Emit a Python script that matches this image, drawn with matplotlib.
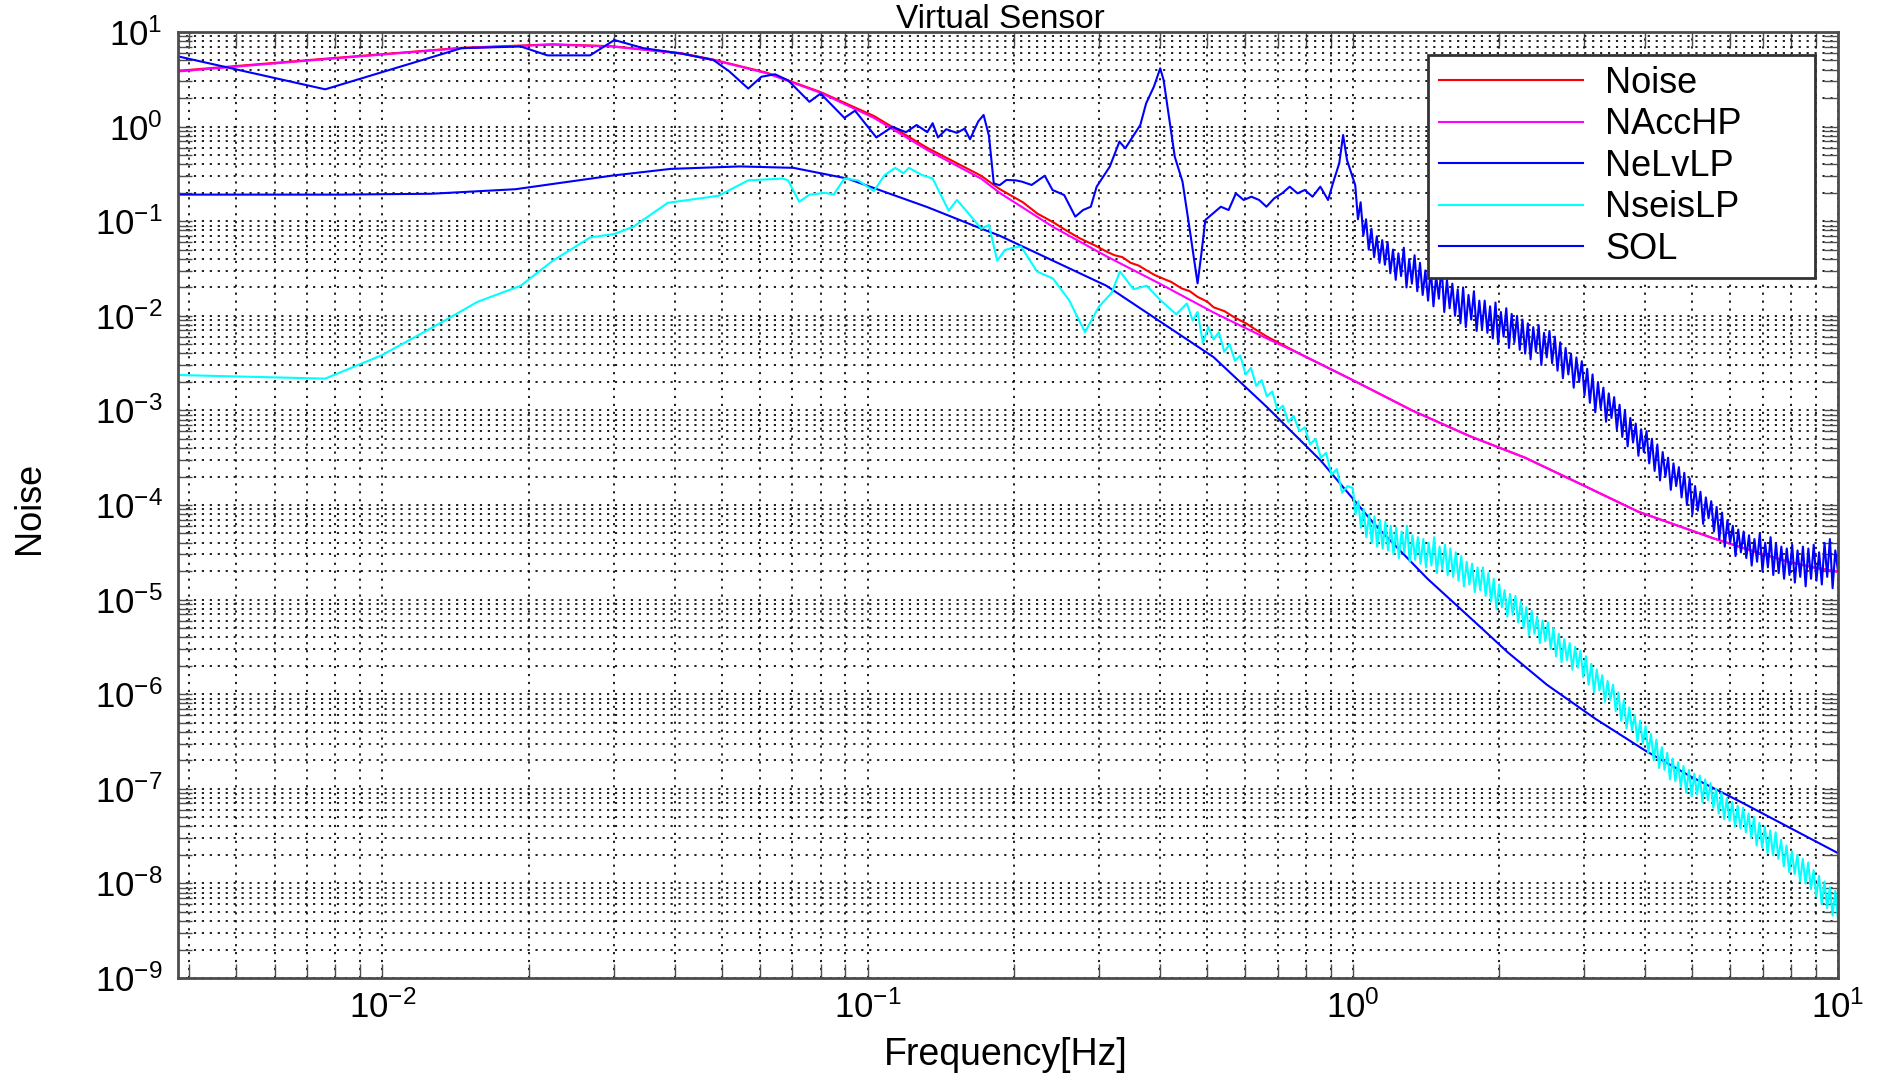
import numpy as np
import matplotlib
matplotlib.use("Agg")
import matplotlib.pyplot as plt
from matplotlib.ticker import LogLocator, FixedLocator, NullFormatter

plt.rcParams['font.family'] = ['Liberation Sans', 'DejaVu Sans']
plt.rcParams['mathtext.default'] = 'regular'

# all curves are stored as log10(frequency [Hz]) / log10(noise)
f_min_exp = -2.4214
x_decades = [1e-2, 1e-1, 1e0, 1e1]
y_decades = [1e-9, 1e-8, 1e-7, 1e-6, 1e-5, 1e-4, 1e-3, 1e-2, 1e-1, 1e0, 1e1]

noise_lf = [-2.421, -2.112, -1.837, -1.649, -1.528, -1.384, -1.318, -1.208, -1.097, -0.987,
            -0.877, -0.766, -0.728, -0.680, -0.650, -0.618, -0.590, -0.563, -0.530, -0.508,
            -0.491, -0.475, -0.458, -0.441, -0.425, -0.408, -0.385, -0.375, -0.353, -0.336,
            -0.320, -0.300, -0.287, -0.265, -0.243, -0.220, -0.199, -0.177, -0.110, 0.0,
            0.122, 0.240, 0.355, 0.47, 0.588, 0.665, 0.742, 0.82, 0.897, 0.95, 1.0]
noise_ly = [0.590, 0.720, 0.833, 0.870, 0.850, 0.776, 0.708, 0.570, 0.365, 0.112,
            -0.225, -0.520, -0.660, -0.80, -0.92, -1.01, -1.10, -1.18, -1.26, -1.32,
            -1.36, -1.38, -1.44, -1.47, -1.52, -1.57, -1.62, -1.64, -1.71, -1.74,
            -1.80, -1.85, -1.91, -1.95, -2.02, -2.08, -2.15, -2.22, -2.40, -2.68,
            -3.00, -3.27, -3.50, -3.78, -4.07, -4.21, -4.35, -4.48, -4.60, -4.66, -4.705]

acc_lf = [-2.421, -2.112, -1.837, -1.649, -1.528, -1.384, -1.318, -1.208, -1.097, -0.987,
          -0.877, -0.766, -0.728, -0.618, -0.508, -0.398, -0.287, -0.177, -0.110, 0.0,
          0.122, 0.240, 0.355, 0.47, 0.588, 0.665, 0.742, 0.82, 0.897, 0.95, 1.0]
acc_ly = [0.583, 0.715, 0.829, 0.866, 0.847, 0.772, 0.704, 0.564, 0.357, 0.092,
          -0.248, -0.55, -0.70, -1.06, -1.37, -1.66, -1.965, -2.24, -2.40, -2.68,
          -3.00, -3.27, -3.50, -3.78, -4.07, -4.21, -4.35, -4.48, -4.60, -4.66, -4.705]

lv_lf = [-2.421, -2.090, -1.900, -1.726, -1.528, -1.406, -1.263, -1.153, -1.042, -0.877,
         -0.766, -0.728, -0.508, -0.287, -0.177, -0.066, 0.044, 0.154, 0.265, 0.320,
         0.40, 0.50, 0.604, 0.70, 0.80, 0.90, 1.0]
lv_ly = [-0.719, -0.719, -0.71, -0.662, -0.519, -0.447, -0.421, -0.436, -0.549, -0.851,
         -1.078, -1.153, -1.682, -2.437, -2.965, -3.531, -4.20, -4.78, -5.30, -5.56,
         -5.90, -6.26, -6.60, -6.88, -7.14, -7.41, -7.68]

seis_lf = [-2.421, -2.118, -2.002, -1.881, -1.804, -1.715, -1.649, -1.572, -1.522, -1.483,
           -1.412, -1.307, -1.246, -1.175, -1.164, -1.141, -1.120, -1.087, -1.070, -1.048,
           -1.020, -0.987, -0.965, -0.943, -0.926, -0.915, -0.888, -0.866, -0.833, -0.816,
           -0.800, -0.766, -0.750, -0.733, -0.717, -0.700, -0.684, -0.651, -0.618, -0.585,
           -0.552, -0.524, -0.497, -0.480, -0.452, -0.425, -0.397, -0.364, -0.342, -0.330,
           -0.320, -0.309, -0.298, -0.287, -0.276, -0.265, -0.254, -0.243, -0.232, -0.221,
           -0.210, -0.199, -0.188, -0.177, -0.166, -0.155, -0.144, -0.133, -0.122, -0.110,
           -0.099, -0.088, -0.077, -0.066, -0.055, -0.044, -0.033, -0.022, -0.011]
seis_ly = [-2.626, -2.664, -2.418, -2.078, -1.852, -1.682, -1.418, -1.172, -1.135, -1.059,
           -0.806, -0.731, -0.568, -0.549, -0.568, -0.795, -0.719, -0.700, -0.719, -0.549,
           -0.568, -0.681, -0.512, -0.436, -0.493, -0.436, -0.512, -0.549, -0.889, -0.776,
           -0.870, -1.078, -1.040, -1.418, -1.304, -1.28, -1.267, -1.531, -1.606, -1.833,
           -2.173, -1.908, -1.757, -1.531, -1.719, -1.682, -1.833, -1.984, -1.870, -2.05,
           -1.96, -2.286, -2.12, -2.25, -2.173, -2.38, -2.30, -2.475, -2.42, -2.62,
           -2.55, -2.74, -2.68, -2.852, -2.80, -3.00, -2.95, -3.12, -3.06, -3.22,
           -3.18, -3.36, -3.30, -3.50, -3.45, -3.68, -3.62, -3.87, -3.80]
# 1-10 Hz part, dense bins
seis_hf = [-3.82, -4.10, -3.96, -4.24, -4.04, -4.34, -4.10, -4.40, -4.12, -4.44, -4.16, -4.46,
           -4.18, -4.48, -4.22, -4.52, -4.24, -4.56, -4.28, -4.50, -4.22, -4.60, -4.32, -4.58,
           -4.34, -4.62, -4.36, -4.66, -4.40, -4.64, -4.34, -4.72, -4.44, -4.68, -4.42, -4.74,
           -4.46, -4.76, -4.50, -4.80, -4.54, -4.86, -4.60, -4.84, -4.62, -4.92, -4.66, -4.90,
           -4.66, -4.96, -4.72, -5.02, -4.78, -5.10, -4.84, -5.08, -4.90, -5.18, -4.94, -5.16,
           -4.96, -5.24, -5.02, -5.30, -5.08, -5.38, -5.12, -5.36, -5.18, -5.46, -5.22, -5.44,
           -5.24, -5.52, -5.30, -5.60, -5.36, -5.66, -5.42, -5.64, -5.46, -5.74, -5.50, -5.72,
           -5.54, -5.82, -5.60, -5.90, -5.68, -5.98, -5.74, -5.96, -5.80, -6.08, -5.86, -6.06,
           -5.90, -6.18, -5.98, -6.28, -6.06, -6.36, -6.14, -6.38, -6.22, -6.50, -6.28, -6.52,
           -6.34, -6.62, -6.42, -6.70, -6.48, -6.78, -6.56, -6.80, -6.62, -6.90, -6.68, -6.92,
           -6.72, -6.98, -6.76, -7.04, -6.80, -7.08, -6.84, -7.06, -6.86, -7.14, -6.90, -7.12,
           -6.94, -7.20, -7.00, -7.26, -7.04, -7.32, -7.10, -7.34, -7.14, -7.40, -7.18, -7.42,
           -7.20, -7.46, -7.26, -7.52, -7.30, -7.60, -7.36, -7.62, -7.40, -7.68, -7.44, -7.70,
           -7.46, -7.74, -7.54, -7.82, -7.60, -7.88, -7.66, -7.90, -7.70, -7.98, -7.74, -8.00,
           -7.78, -8.06, -7.86, -8.14, -7.92, -8.22, -7.98, -8.26, -8.04, -8.34, -8.08, -8.38]

sol_lf = [-2.421, -2.118, -1.837, -1.715, -1.660, -1.572, -1.522, -1.462, -1.384, -1.318,
          -1.285, -1.246, -1.219, -1.191, -1.164, -1.120, -1.097, -1.048, -1.026, -0.982,
          -0.949, -0.921, -0.899, -0.877, -0.866, -0.855, -0.838, -0.816, -0.800, -0.789,
          -0.772, -0.761, -0.750, -0.740, -0.728, -0.714, -0.695, -0.682, -0.662, -0.635,
          -0.619, -0.595, -0.572, -0.556, -0.540, -0.528, -0.501, -0.481, -0.469, -0.438,
          -0.426, -0.410, -0.397, -0.390, -0.379, -0.367, -0.351, -0.335, -0.320, -0.312,
          -0.304, -0.288, -0.272, -0.256, -0.241, -0.225, -0.209, -0.193, -0.178, -0.162,
          -0.146, -0.130, -0.114, -0.099, -0.083, -0.067, -0.051, -0.040, -0.028, -0.020,
          -0.012]
sol_ly = [0.742, 0.394, 0.829, 0.847, 0.753, 0.753, 0.915, 0.829, 0.772, 0.704,
          0.583, 0.402, 0.527, 0.553, 0.489, 0.262, 0.349, 0.092, 0.168, -0.115,
          -0.002, -0.059, 0.017, -0.059, 0.036, -0.115, -0.028, -0.066, -0.021, -0.134,
          0.055, 0.123, -0.096, -0.60, -0.62, -0.564, -0.568, -0.582, -0.617, -0.519,
          -0.670, -0.723, -0.952, -0.882, -0.847, -0.635, -0.424, -0.159, -0.230, 0.017,
          0.246, 0.422, 0.616, 0.493, 0.105, -0.318, -0.582, -1.128, -1.657, -1.339,
          -0.987, -0.917, -0.847, -0.882, -0.706, -0.776, -0.741, -0.776, -0.847, -0.758,
          -0.706, -0.635, -0.706, -0.670, -0.741, -0.635, -0.776, -0.582, -0.388, -0.089,
          -0.353]
sol_hf = [-0.62, -0.98, -0.80, -1.15, -0.98, -1.30, -1.08, -1.38, -1.16, -1.44, -1.20, -1.46,
          -1.22, -1.55, -1.30, -1.62, -1.34, -1.58, -1.28, -1.70, -1.40, -1.66, -1.36, -1.74,
          -1.44, -1.78, -1.52, -1.84, -1.50, -1.90, -1.58, -1.82, -1.46, -1.96, -1.62, -1.92,
          -1.66, -2.00, -1.72, -2.08, -1.70, -2.12, -1.78, -2.04, -1.74, -2.16, -1.84, -2.14,
          -1.84, -2.18, -1.90, -2.24, -1.86, -2.30, -1.96, -2.22, -1.92, -2.34, -1.98, -2.28,
          -2.00, -2.36, -2.04, -2.40, -2.08, -2.46, -2.12, -2.38, -2.10, -2.52, -2.18, -2.44,
          -2.16, -2.50, -2.22, -2.58, -2.28, -2.66, -2.34, -2.62, -2.40, -2.76, -2.44, -2.70,
          -2.48, -2.84, -2.56, -2.92, -2.62, -3.02, -2.70, -2.98, -2.76, -3.12, -2.82, -3.08,
          -2.86, -3.20, -2.94, -3.28, -3.00, -3.38, -3.08, -3.34, -3.14, -3.48, -3.20, -3.44,
          -3.22, -3.56, -3.30, -3.64, -3.36, -3.74, -3.44, -3.70, -3.50, -3.84, -3.56, -3.80,
          -3.60, -3.92, -3.66, -4.00, -3.72, -4.10, -3.80, -4.06, -3.86, -4.20, -3.92, -4.14,
          -3.96, -4.28, -4.02, -4.36, -4.08, -4.44, -4.16, -4.40, -4.22, -4.54, -4.26, -4.50,
          -4.28, -4.56, -4.32, -4.64, -4.36, -4.60, -4.30, -4.70, -4.40, -4.66, -4.34, -4.74,
          -4.40, -4.72, -4.44, -4.78, -4.46, -4.74, -4.42, -4.82, -4.48, -4.76, -4.44, -4.86,
          -4.46, -4.78, -4.42, -4.80, -4.50, -4.84, -4.40, -4.76, -4.36, -4.88, -4.48, -4.70]

labels = ['Noise', 'NAccHP', 'NeLvLP', 'NseisLP', 'SOL']
colors = ['#ff0000', '#ff00ff', '#0000ff', '#00ffff', '#0000ff']

# dense high-frequency bins are spread evenly in log frequency
seis_f = np.concatenate([10 ** np.array(seis_lf), np.logspace(0.0, 1.0, len(seis_hf))])
seis_y = 10 ** np.concatenate([seis_ly, seis_hf])
sol_f = np.concatenate([10 ** np.array(sol_lf), np.logspace(0.005, 1.0, len(sol_hf))])
sol_y = 10 ** np.concatenate([sol_ly, sol_hf])

curves = [
    (10 ** np.array(noise_lf), 10 ** np.array(noise_ly)),
    (10 ** np.array(acc_lf), 10 ** np.array(acc_ly)),
    (10 ** np.array(lv_lf), 10 ** np.array(lv_ly)),
    (seis_f, seis_y),
    (sol_f, sol_y),
]

W, H = 1890, 1080
fig = plt.figure(figsize=(W / 100, H / 100), dpi=100)
ax = fig.add_axes([178 / W, 1 - 978 / H, 1660 / W, 946 / H])

for (f, y), lab, c in zip(curves, labels, colors):
    ax.loglog(f, y, color=c, lw=1.5, label=lab)

ax.set_xlim(10 ** f_min_exp, 10)
ax.set_ylim(1e-9, 10)

ax.xaxis.set_major_locator(FixedLocator(x_decades))
ax.yaxis.set_major_locator(FixedLocator(y_decades))
ax.xaxis.set_minor_locator(LogLocator(base=10, subs=np.arange(2, 10), numticks=100))
ax.yaxis.set_minor_locator(LogLocator(base=10, subs=np.arange(2, 10), numticks=100))
ax.xaxis.set_minor_formatter(NullFormatter())
ax.yaxis.set_minor_formatter(NullFormatter())

ax.grid(True, which='both', color='0.05', lw=1.3, linestyle=(0, (1.2, 3.2)))
ax.tick_params(which='both', direction='in', top=True, right=True,
               length=10, width=1.0, color='0.3', labelsize=25)
ax.tick_params(axis='x', pad=9)
ax.tick_params(axis='y', pad=11)
for sp in ax.spines.values():
    sp.set_linewidth(2.0)
    sp.set_color('0.3')

leg = ax.legend(loc='upper left', bbox_to_anchor=(1428 / W, 1 - 278 / H, 387 / W, 223 / H),
                bbox_transform=fig.transFigure, mode='expand', borderaxespad=0,
                fontsize=26, handlelength=4.0, handletextpad=0.6, borderpad=0.3,
                labelspacing=0.18, fancybox=False, framealpha=1)
leg.get_frame().set_edgecolor('0.2')
leg.get_frame().set_linewidth(2.0)

fig.text(1000 / W, 1 - 28 / H, 'Virtual Sensor', ha='center', va='baseline', fontsize=24)
fig.text(1006 / W, 1 - 1065 / H, 'Frequency[Hz]', ha='center', va='baseline', fontsize=27)
fig.text(30 / W, 1 - 508 / H, 'Noise', rotation=90, ha='center', va='center', fontsize=26)

fig.savefig('out.png', dpi=100, facecolor='white')
